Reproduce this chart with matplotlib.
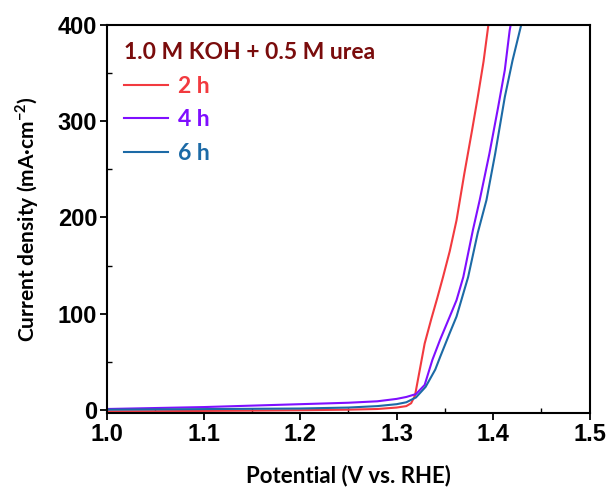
import matplotlib
matplotlib.use("Agg")
import matplotlib.pyplot as plt
from matplotlib.ticker import MultipleLocator
from matplotlib.font_manager import FontProperties

# LSV data
pot_2h = [1.00, 1.05, 1.10, 1.15, 1.20, 1.25, 1.28, 1.30, 1.31, 1.315, 1.319,
          1.324, 1.329, 1.336, 1.342, 1.348, 1.355, 1.362, 1.370, 1.378, 1.384,
          1.390, 1.395, 1.397]
cur_2h = [-1.5, -1.3, -1.0, -0.7, -0.3, 0.3, 1.0, 2.5, 4.0, 7.0, 15.0,
          42.0, 69.0, 95.0, 116.0, 138.0, 165.0, 197.0, 245.0, 290.0, 325.0,
          362.0, 400.0, 410.0]

pot_4h = [1.00, 1.05, 1.10, 1.15, 1.20, 1.25, 1.28, 1.30, 1.31, 1.32, 1.329,
          1.337, 1.345, 1.355, 1.362, 1.369, 1.379, 1.386, 1.396, 1.405, 1.412,
          1.417, 1.419]
cur_4h = [1.0, 2.0, 3.0, 4.5, 6.0, 7.5, 9.0, 11.5, 13.5, 16.5, 26.0,
          52.0, 73.0, 97.0, 114.0, 138.0, 187.0, 218.0, 266.0, 314.0, 353.0,
          394.0, 405.0]

pot_6h = [1.00, 1.05, 1.10, 1.15, 1.20, 1.25, 1.28, 1.30, 1.31, 1.32, 1.33,
          1.34, 1.345, 1.355, 1.362, 1.374, 1.384, 1.393, 1.402, 1.412, 1.420,
          1.429, 1.431]
cur_6h = [0.3, 0.6, 0.9, 1.2, 1.5, 2.5, 4.0, 6.0, 8.0, 13.0, 24.0,
          42.0, 55.0, 80.0, 97.0, 138.0, 184.0, 218.0, 266.0, 325.0, 363.0,
          400.0, 410.0]

series = [
    ("2 h", pot_2h, cur_2h, "#f23a3f"),
    ("4 h", pot_4h, cur_4h, "#7f0fff"),
    ("6 h", pot_6h, cur_6h, "#1c6aa6"),
]
legend_title = "1.0 M KOH + 0.5 M urea"

tick_font = FontProperties(family="Liberation Sans", weight="bold", size=17)
xlabel_font = FontProperties(family="Lato", weight="bold", size=16)
ylabel_font = FontProperties(family="Lato", weight="bold", size=15)
legend_font = FontProperties(family="Lato", weight="bold", size=16.5)

fig = plt.figure(figsize=(6.08, 4.88), dpi=100)
ax = fig.add_axes([0.176, 0.154, 0.794, 0.795])

for name, x, y, color in series:
    ax.plot(x, y, color=color, lw=1.5, label=name)

ax.set_xlim(1.0, 1.5)
ax.set_ylim(-3, 400)
ax.xaxis.set_major_locator(MultipleLocator(0.1))
ax.xaxis.set_minor_locator(MultipleLocator(0.05))
ax.yaxis.set_major_locator(MultipleLocator(100))
ax.yaxis.set_minor_locator(MultipleLocator(50))
ax.tick_params(which="major", direction="out", length=5, width=1.3, pad=2)
ax.tick_params(which="minor", direction="in", length=3.5, width=1.0)
for s in ax.spines.values():
    s.set_linewidth(1.5)

ax.set_xticks(ax.get_xticks())
ax.set_xticklabels([f"{v:.1f}" for v in ax.get_xticks()])
for lab in ax.get_xticklabels() + ax.get_yticklabels():
    lab.set_fontproperties(tick_font)
ax.set_xlim(1.0, 1.5)

ax.set_xlabel("Potential (V vs. RHE)", fontproperties=xlabel_font, labelpad=14)
ax.set_ylabel(r"Current density (mA·cm$^{\mathregular{-2}}$)",
              fontproperties=ylabel_font, labelpad=12)

leg = ax.legend(loc="upper left", frameon=False, title=legend_title,
                prop=legend_font, title_fontproperties=legend_font,
                labelcolor="linecolor", handlelength=1.9, handletextpad=0.45,
                labelspacing=0.55, borderaxespad=0.35)
leg._legend_box.align = "left"
leg._legend_box.sep = 9
leg.get_title().set_color("#7a0c0c")

fig.savefig("out.png", dpi=100)
